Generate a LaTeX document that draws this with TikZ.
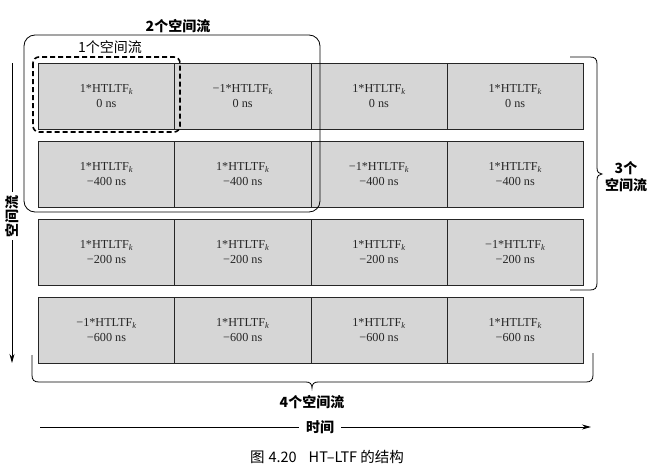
\documentclass[tikz,border=0pt]{standalone}
\usepackage{fontspec}
\setmainfont{Liberation Serif}
\newfontfamily\cjk{Noto Sans CJK SC}
\usetikzlibrary{arrows.meta}
% subscripted training-field symbol
\newcommand\htltf{HTLTF\textsubscript{\itshape k}}
\begin{document}
\begin{tikzpicture}[x=1pt,y=-1pt,
  cell/.style={draw=black!85, fill=black!16, line width=0.7pt,
    minimum width=136.25pt, minimum height=65.5pt, anchor=north west,
    inner sep=0pt, align=center, text=black!85, font=\fontsize{12.2}{14.5}\selectfont},
  boldlbl/.style={font=\cjk\bfseries\fontsize{14}{16}\selectfont, inner sep=0pt, align=center},
  thinlbl/.style={font=\cjk\fontsize{14}{16}\selectfont, inner sep=0pt},
  bracket/.style={line width=0.8pt},
  axis/.style={line width=0.8pt},
  tip/.style={-{Stealth[length=9pt,width=5pt]}}
]
\useasboundingbox (0,0) rectangle (670,474);

% ---- training-field grid: 4 streams x 4 symbols ----
\node[cell] (c11) at (38,63)      {1*\htltf\\0 ns};
\node[cell] (c12) at (174.25,63)  {−1*\htltf\\0 ns};
\node[cell] (c13) at (310.5,63)   {1*\htltf\\0 ns};
\node[cell] (c14) at (446.75,63)  {1*\htltf\\0 ns};

\node[cell] (c21) at (38,141)     {1*\htltf\\−400 ns};
\node[cell] (c22) at (174.25,141) {1*\htltf\\−400 ns};
\node[cell] (c23) at (310.5,141)  {−1*\htltf\\−400 ns};
\node[cell] (c24) at (446.75,141) {1*\htltf\\−400 ns};

\node[cell] (c31) at (38,219)     {1*\htltf\\−200 ns};
\node[cell] (c32) at (174.25,219) {1*\htltf\\−200 ns};
\node[cell] (c33) at (310.5,219)  {1*\htltf\\−200 ns};
\node[cell] (c34) at (446.75,219) {−1*\htltf\\−200 ns};

\node[cell] (c41) at (38,297)     {−1*\htltf\\−600 ns};
\node[cell] (c42) at (174.25,297) {1*\htltf\\−600 ns};
\node[cell] (c43) at (310.5,297)  {1*\htltf\\−600 ns};
\node[cell] (c44) at (446.75,297) {1*\htltf\\−600 ns};

% ---- 1 stream: dashed frame ----
\draw[line width=1.6pt, dash pattern=on 5pt off 3pt, rounded corners=6pt]
  (33,57) rectangle (180,132);
\node[thinlbl] (one) at (110,47) {1个空间流};

% ---- 2 streams: rounded frame ----
\draw[line width=0.8pt, rounded corners=11pt] (24,35) rectangle (320,212);
\node[boldlbl] (two) at (178,26) {2个空间流};

% ---- 3 streams: right brace ----
\draw[bracket] (570,57) -- (590,57) .. controls (595,57) and (597,59) .. (597,64)
  -- (597,168) .. controls (597,172) and (599,174) .. (602,174)
  .. controls (599,174) and (597,176) .. (597,180)
  -- (597,283) .. controls (597,288) and (595,290) .. (590,290) -- (570,290);
\node[boldlbl, font=\cjk\bfseries\fontsize{14}{17}\selectfont] (three) at (626,177) {3个\\空间流};

% ---- 4 streams: bottom brace ----
\draw[bracket] (32,355) -- (32,375) .. controls (32,380) and (34,382) .. (39,382)
  -- (306,382) .. controls (310,382) and (312,384) .. (312,388)
  .. controls (312,384) and (314,382) .. (318,382)
  -- (586,382) .. controls (591,382) and (593,380) .. (593,375) -- (593,353);
\node[boldlbl] (four) at (312,402) {4个空间流};

% ---- spatial axis (downwards) ----
\node[boldlbl, rotate=90, inner sep=3pt] (space) at (12,216) {空间流};
\coordinate (stop) at (12,63);
\coordinate (send) at (12,363);
\draw[axis] (stop) -- (space.east);
\draw[axis, tip] (space.west) -- (send);

% ---- time axis (rightwards) ----
\node[boldlbl, inner sep=7pt] (time) at (320,427) {时间};
\coordinate (tstart) at (40,427);
\coordinate (tend) at (591,427);
\draw[axis] (tstart) -- (time.west);
\draw[axis, tip] (time.east) -- (tend);

% ---- caption ----
\node[font=\cjk\fontsize{14.5}{16}\selectfont, inner sep=0pt] (cap) at (327,457)
  {图\hspace{4pt}4.20\hspace{12pt}HT–LTF 的结构};
\end{tikzpicture}
\end{document}
